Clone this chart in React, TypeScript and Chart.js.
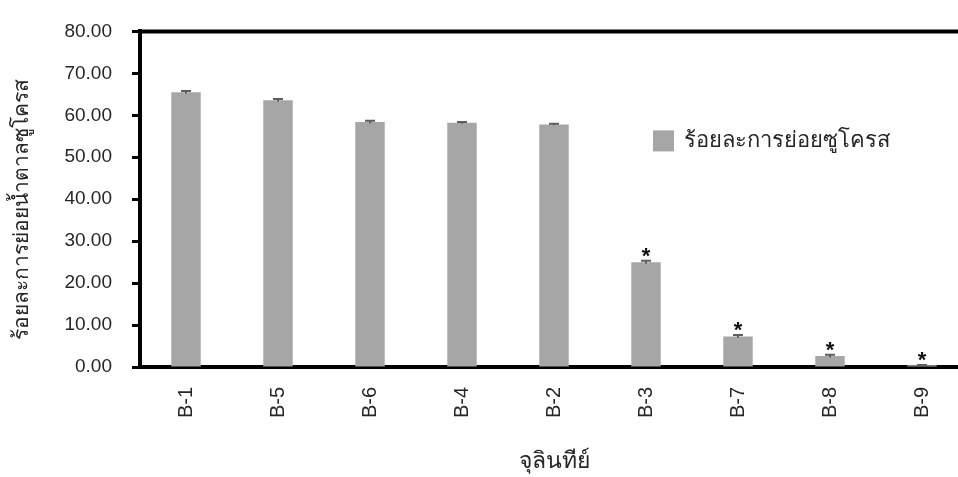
import React, { useEffect, useRef } from 'react';
import { Chart, registerables } from 'chart.js';

Chart.register(...registerables);

// Isolates, ordered by sucrose hydrolysis
const categories = ['B-1', 'B-5', 'B-6', 'B-4', 'B-2', 'B-3', 'B-7', 'B-8', 'B-9'];
// Percent sucrose hydrolysed
const sucroseHydrolysis = [65.5, 63.6, 58.4, 58.2, 57.8, 25.0, 7.3, 2.6, 0.4];
// Standard error for each isolate
const errorMargins = [0.3, 0.3, 0.3, 0.2, 0.2, 0.3, 0.3, 0.3, 0.1];
// Significance marks shown above the bars
const significanceMarks = ['', '', '', '', '', '*', '*', '*', '*'];

const seriesLabel = 'ร้อยละการย่อยซูโครส';
const yTitle = 'ร้อยละการย่อยน้ำตาลซูโครส';
const xTitle = 'จุลินทีย์';

const FONT = "Tahoma, 'Liberation Sans', 'DejaVu Sans', sans-serif";
const TEXT = '#262626';
const BAR = '#a6a6a6';
const CAP = '#5e5e5e';

const errorBarsPlugin = {
  id: 'errorBarsAndMarks',
  afterDatasetsDraw(chart: any) {
    const { ctx } = chart;
    const meta = chart.getDatasetMeta(0);
    const y = chart.scales.y;
    ctx.save();
    meta.data.forEach((bar: any, i: number) => {
      const v = sucroseHydrolysis[i];
      const e = errorMargins[i];
      const yTop = y.getPixelForValue(v + e);
      const yBot = y.getPixelForValue(v - e);
      ctx.strokeStyle = CAP;
      ctx.lineWidth = 2;
      ctx.beginPath();
      ctx.moveTo(bar.x, yTop);
      ctx.lineTo(bar.x, yBot);
      ctx.moveTo(bar.x - 5, yTop);
      ctx.lineTo(bar.x + 5, yTop);
      ctx.stroke();
      const mark = significanceMarks[i];
      if (mark) {
        ctx.fillStyle = '#111';
        ctx.font = `bold 22px ${FONT}`;
        ctx.textAlign = 'center';
        ctx.textBaseline = 'alphabetic';
        ctx.fillText(mark, bar.x, yTop + 2);
      }
    });
    ctx.restore();
  },
};

const framePlugin = {
  id: 'frameAndLegend',
  afterDraw(chart: any) {
    const { ctx, chartArea } = chart;
    ctx.save();
    // top frame line
    ctx.strokeStyle = '#000';
    ctx.lineWidth = 4;
    ctx.beginPath();
    ctx.moveTo(chartArea.left - 2, chartArea.top);
    ctx.lineTo(chartArea.right, chartArea.top);
    ctx.stroke();

    // legend inside plot area
    const boxX = chartArea.left + 513;
    const boxY = chartArea.top + 99;
    ctx.fillStyle = BAR;
    ctx.fillRect(boxX, boxY, 21, 21);
    ctx.fillStyle = TEXT;
    ctx.font = `22px ${FONT}`;
    ctx.textAlign = 'left';
    ctx.textBaseline = 'middle';
    ctx.fillText(seriesLabel, boxX + 31, boxY + 11);

    // rotated y-axis title
    ctx.translate(22, (chartArea.top + chartArea.bottom) / 2 + 10);
    ctx.rotate(-Math.PI / 2);
    ctx.textAlign = 'center';
    ctx.textBaseline = 'middle';
    ctx.font = `21px ${FONT}`;
    ctx.fillText(yTitle, 0, 0);
    ctx.restore();
  },
};

export default function App() {
  const canvasRef = useRef<HTMLCanvasElement | null>(null);

  useEffect(() => {
    document.body.style.margin = '0';
    document.body.style.overflow = 'hidden';
    const canvas = canvasRef.current;
    if (!canvas) return;
    const chart = new Chart(canvas, {
      type: 'bar',
      data: {
        labels: categories,
        datasets: [
          {
            label: seriesLabel,
            data: sucroseHydrolysis,
            backgroundColor: BAR,
            borderWidth: 0,
            barPercentage: 0.32,
            categoryPercentage: 1,
          },
        ],
      },
      options: {
        animation: false,
        responsive: false,
        devicePixelRatio: 1,
        layout: { padding: { top: 31, right: 7, left: 0, bottom: 0 } },
        plugins: {
          legend: { display: false },
          tooltip: { enabled: false },
        },
        scales: {
          x: {
            afterFit(scale: any) {
              scale.height = 110;
            },
            grid: { display: false, drawTicks: false },
            border: { display: true, color: '#000', width: 4 },
            ticks: {
              color: TEXT,
              font: { family: FONT, size: 20 },
              minRotation: 90,
              maxRotation: 90,
              padding: 20,
              autoSkip: false,
            },
            title: {
              display: true,
              text: xTitle,
              color: TEXT,
              font: { family: FONT, size: 23 },
              padding: { top: 0, bottom: 2 },
            },
          },
          y: {
            min: 0,
            max: 80,
            afterFit(scale: any) {
              scale.width = 140;
            },
            ticks: {
              stepSize: 10,
              color: TEXT,
              font: { family: FONT, size: 19 },
              padding: 20,
              callback: (v: any) => Number(v).toFixed(2),
            },
            grid: {
              display: true,
              drawOnChartArea: false,
              drawTicks: true,
              tickLength: 8,
              tickWidth: 3,
              tickColor: '#000',
            },
            border: { display: true, color: '#000', width: 4 },
            title: { display: false },
          },
        },
      },
      plugins: [errorBarsPlugin, framePlugin],
    });
    return () => chart.destroy();
  }, []);

  return (
    <div style={{ position: 'relative', width: 958, height: 477, overflow: 'hidden', background: '#fff' }}>
      <canvas
        ref={canvasRef}
        width={975}
        height={477}
        style={{ position: 'absolute', left: 0, top: 0, width: 975, height: 477 }}
      />
    </div>
  );
}
